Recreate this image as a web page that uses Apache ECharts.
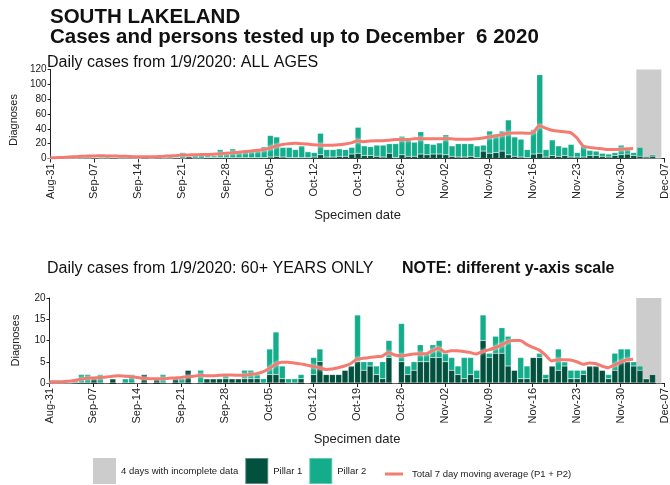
<!DOCTYPE html>
<html>
<head>
<meta charset="utf-8">
<script src="https://cdn.jsdelivr.net/npm/echarts@6/dist/echarts.min.js"></script>
<style>
  html, body { margin: 0; padding: 0; background: #ffffff; }
  #chart { width: 670px; height: 485px; }
</style>
</head>
<body>
<div id="chart"></div>
<script>
// Weekly tick labels along the specimen-date axis (day 0 = Aug-31, one tick every 7 days)
const weekTicks = ['Aug-31', 'Sep-07', 'Sep-14', 'Sep-21', 'Sep-28', 'Oct-05', 'Oct-12',
  'Oct-19', 'Oct-26', 'Nov-02', 'Nov-09', 'Nov-16', 'Nov-23', 'Nov-30', 'Dec-07'];

// Last days of the series whose counts are still incomplete
const incompleteDays = ['Dec-03', 'Dec-04', 'Dec-05', 'Dec-06'];

// ALL AGES — daily cases by pillar, Aug-31 .. Dec-06 (index = day)
const allPillar1 = [0,
  0,0,0,0,0,0,1,0,0,1,
  0,0,0,0,2,0,1,0,0,1,
  0,3,0,0,1,1,1,1,1,1,
  1,1,1,1,2,3,2,1,1,1,
  1,2,5,2,2,3,3,6,7,4,
  4,3,2,7,1,5,3,3,6,5,
  6,6,5,3,2,2,3,1,10,7,
  8,10,5,3,2,1,6,7,2,4,
  3,4,2,2,2,4,4,3,2,4,
  5,6,4,3,2,3,1];
const allPillar2 = [0,
  1,0,2,1,2,3,1,2,3,1,
  2,2,3,1,0,3,0,2,4,3,
  8,0,4,6,4,3,11,6,12,9,
  10,9,11,15,29,26,13,14,11,16,
  8,6,29,10,10,10,9,9,35,13,
  12,15,16,13,19,25,24,19,30,15,
  13,15,27,14,18,18,17,16,8,30,
  25,27,47,26,24,11,33,106,10,21,
  14,11,17,6,15,7,6,4,4,4,
  13,7,4,12,1,2,0];
// ALL AGES — total 7 day moving average
const allAverage = [1.0,1.2,1.5,2.0,2.5,3.0,
  3.3,3.5,3.6,3.5,3.4,3.2,3.0,
  2.6,2.4,2.3,2.4,2.6,
  3.0,3.5,4.0,4.6,4.8,5.0,5.3,
  5.5,5.8,6.4,7.2,7.8,8.5,
  9.3,10.0,11.0,12.0,
  14,17,19,20,20.5,20,
  19.5,18.5,18,18,18,18.5,19.5,
  21,24,22.5,23.5,24,24,24.5,
  25.5,25.5,25.5,26.5,27,26.5,26.5,26.5,
  27,26.5,26,26,26,26.5,27.5,
  29,30.5,32,34,34.5,34.5,34,35,
  44,41,38,37,36,35,28,
  17,15,14,13,12,12,12.5,13,13.5];

// 60+ YEARS ONLY — daily cases by pillar
const oldPillar1 = [0,
  0,0,0,0,0,0,1,0,0,1,
  0,0,0,0,2,0,1,0,0,1,
  0,3,0,0,1,1,1,1,1,1,
  1,1,1,0,2,2,1,0,0,1,
  0,2,5,2,2,2,3,4,5,3,
  4,2,1,6,0,5,2,3,5,5,
  6,6,5,3,2,1,2,1,10,6,
  7,7,4,3,1,1,6,6,1,4,
  3,4,1,1,2,4,4,3,1,3,
  5,5,4,3,1,2,0];
const oldPillar2 = [0,
  0,0,0,1,2,2,0,2,0,0,
  0,1,2,0,0,0,0,2,0,0,
  1,0,0,3,0,0,0,1,0,0,
  2,2,1,1,6,10,3,1,1,1,
  0,4,3,0,0,0,0,0,11,2,
  1,2,4,4,0,9,2,2,4,2,
  3,4,2,3,2,5,4,2,6,1,
  4,6,7,0,5,3,0,1,1,0,
  5,1,2,2,1,0,0,0,1,4,
  3,3,1,1,0,0,0];
// 60+ YEARS ONLY — total 7 day moving average
const oldAverage = [0.3,0.3,0.3,0.4,0.6,
  0.9,1.1,1.2,1.3,1.4,1.6,
  1.7,1.6,1.5,1.3,1.1,
  1.0,1.0,1.0,1.1,1.2,
  1.3,1.5,1.6,1.8,1.7,
  1.7,1.8,1.9,1.9,1.8,
  1.8,2.0,2.2,2.6,
  3.4,4.4,4.9,4.9,4.7,4.5,4.2,3.9,3.6,3.2,
  3.3,3.6,4.0,4.6,5.6,5.8,6.0,6.2,6.3,7.2,
  6.6,6.4,6.6,6.8,6.9,6.9,7.6,8.2,7.3,7.6,
  7.6,7.4,7.2,6.8,7.4,7.8,8.3,8.9,9.7,10.0,
  10.0,9.1,8.4,7.8,6.6,5.2,5.5,5.5,5.4,5.0,
  4.4,4.7,4.6,4.0,3.6,4.2,4.9,5.5,5.6];

const FONT = 'Liberation Sans, Arial, sans-serif';
const C_P1 = '#02513f';
const C_P2 = '#13ad8b';
const C_AVG = '#f57a70';
const C_GREY = '#cccccc';
const N_BAND = '4 days with incomplete data';
const N_P1 = 'Pillar 1';
const N_P2 = 'Pillar 2';
const N_AVG = 'Total 7 day moving average (P1 + P2)';

// Bars keep the count in dimension 0 so the stack accumulates counts, not days
const barPoints = arr => arr.map((v, i) => [v, i]);
const linePoints = arr => arr.map((v, i) => [i, v]);
const lastDay = allPillar1.length - 1;
const bandFrom = lastDay - incompleteDays.length + 1 - 0.5;
const bandTo = lastDay + 0.5;

function xAxis(gridIndex) {
  return {
    type: 'value', gridIndex, min: 0, max: (weekTicks.length - 1) * 7, interval: 7,
    name: 'Specimen date', nameLocation: 'middle', nameGap: 50,
    nameTextStyle: { fontFamily: FONT, fontSize: 13, color: '#222' },
    axisLine: { lineStyle: { color: '#222', width: 1 } },
    axisTick: { length: 4, lineStyle: { color: '#222' } },
    splitLine: { show: false },
    axisLabel: {
      rotate: 90, fontFamily: FONT, fontSize: 11, color: '#222', margin: 5,
      showMinLabel: true, showMaxLabel: true,
      formatter: v => weekTicks[Math.round(v / 7)] || ''
    }
  };
}
function yAxis(gridIndex, max, interval, shift) {
  return {
    type: 'value', gridIndex, min: 0, max, interval,
    name: 'Diagnoses', nameLocation: 'middle', nameGap: 28,
    nameTextStyle: { fontFamily: FONT, fontSize: 11, color: '#222', padding: [0, shift, 0, 0] },
    axisLine: { show: true, lineStyle: { color: '#222', width: 1 } },
    axisTick: { show: true, length: 3, lineStyle: { color: '#222' } },
    splitLine: { show: false },
    axisLabel: { fontFamily: FONT, fontSize: 10, color: '#222', margin: 4 }
  };
}
function barSeries(name, color, data, idx) {
  return {
    name, type: 'bar', stack: 'cases' + idx, xAxisIndex: idx, yAxisIndex: idx,
    data: barPoints(data), encode: { x: 1, y: 0 }, barWidth: 6, z: 3,
    itemStyle: { color, borderColor: 'rgba(255,255,255,0.35)', borderWidth: 0.5 },
    emphasis: { disabled: true }
  };
}
function avgSeries(data, idx) {
  return {
    name: N_AVG, type: 'line', xAxisIndex: idx, yAxisIndex: idx,
    data: linePoints(data), showSymbol: false, symbol: 'none', smooth: 0.2, z: 5,
    lineStyle: { color: C_AVG, width: 3, shadowColor: 'rgba(255,255,255,0.95)', shadowBlur: 3 },
    itemStyle: { color: C_AVG }
  };
}
function bandSeries(idx, top) {
  return {
    name: N_BAND, type: 'bar', xAxisIndex: idx, yAxisIndex: idx, data: [], z: 1,
    itemStyle: { color: C_GREY },
    markArea: {
      silent: true, itemStyle: { color: C_GREY },
      data: [[{ xAxis: bandFrom, yAxis: 0 }, { xAxis: bandTo, yAxis: top }]]
    }
  };
}

const chart = echarts.init(document.getElementById('chart'), null, { renderer: 'canvas' });
chart.setOption({
  animation: false,
  backgroundColor: '#ffffff',
  textStyle: { fontFamily: FONT },
  title: [
    { text: 'SOUTH LAKELAND', left: 45, top: 2,
      textStyle: { fontFamily: FONT, fontSize: 20.5, fontWeight: 'bold', color: '#111' } },
    { text: 'Cases and persons tested up to December  6 2020', left: 45, top: 22,
      textStyle: { fontFamily: FONT, fontSize: 20.5, fontWeight: 'bold', color: '#111' } },
    { text: 'Daily cases from 1/9/2020: ALL AGES', left: 42, top: 50,
      textStyle: { fontFamily: FONT, fontSize: 16, fontWeight: 'normal', color: '#111' } },
    { text: 'Daily cases from 1/9/2020: 60+ YEARS ONLY', left: 42, top: 256,
      textStyle: { fontFamily: FONT, fontSize: 16, fontWeight: 'normal', color: '#111' } },
    { text: 'NOTE: different y-axis scale', left: 397, top: 256,
      textStyle: { fontFamily: FONT, fontSize: 16, fontWeight: 'bold', color: '#111' } }
  ],
  legend: [
    { data: [{ name: N_BAND, icon: 'rect' }, { name: N_P1, icon: 'rect' }, { name: N_P2, icon: 'rect' }],
      left: 88, top: 452, itemWidth: 23, itemHeight: 26, itemGap: 6, selectedMode: false,
      textStyle: { fontFamily: FONT, fontSize: 9.5, color: '#222' } },
    { data: [{ name: N_AVG, icon: 'rect' }],
      left: 380, top: 464, itemWidth: 18, itemHeight: 3, selectedMode: false,
      textStyle: { fontFamily: FONT, fontSize: 9.5, color: '#222', padding: [0, 0, 0, 4] } }
  ],
  grid: [
    { left: 49.5, top: 69.5, width: 618.5, height: 89 },
    { left: 49.5, top: 298, width: 618.5, height: 85 }
  ],
  xAxis: [xAxis(0), xAxis(1)],
  yAxis: [yAxis(0, 120, 20, 12), yAxis(1, 20, 5, 0)],
  series: [
    bandSeries(0, 120),
    barSeries(N_P1, C_P1, allPillar1, 0),
    barSeries(N_P2, C_P2, allPillar2, 0),
    avgSeries(allAverage, 0),
    bandSeries(1, 20),
    barSeries(N_P1, C_P1, oldPillar1, 1),
    barSeries(N_P2, C_P2, oldPillar2, 1),
    avgSeries(oldAverage, 1)
  ]
});
</script>
</body>
</html>
